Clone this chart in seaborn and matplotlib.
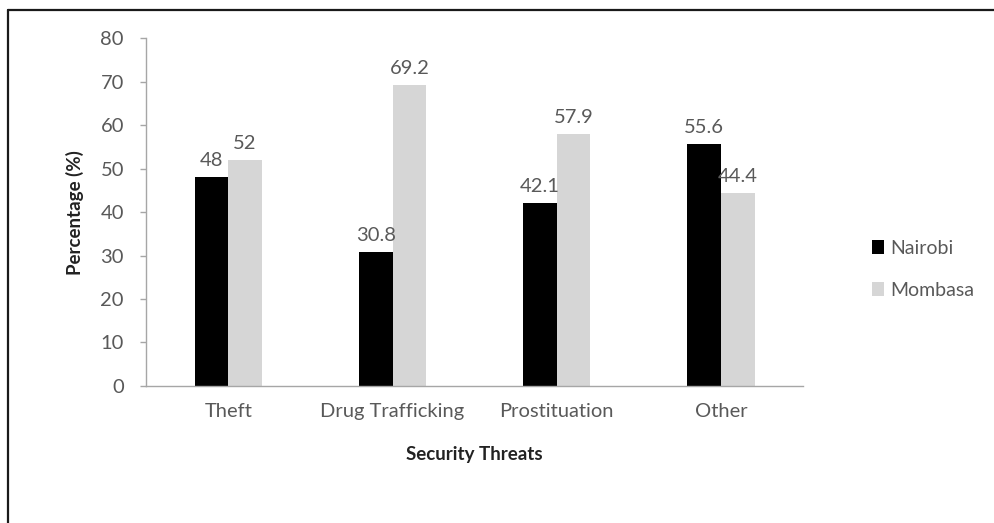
import matplotlib
matplotlib.use("Agg")
import matplotlib.pyplot as plt
from matplotlib.lines import Line2D
import seaborn as sns
import pandas as pd

threats = ["Theft", "Drug Trafficking", "Prostituation", "Other"]
nairobi = [48, 30.8, 42.1, 55.6]
mombasa = [52, 69.2, 57.9, 44.4]
cities = ["Nairobi", "Mombasa"]
y_ticks = [0, 10, 20, 30, 40, 50, 60, 70, 80]

df = pd.DataFrame({
    "Security Threats": threats * 2,
    "Percentage (%)": nairobi + mombasa,
    "City": [cities[0]] * len(threats) + [cities[1]] * len(threats),
})

sns.set_style("white")
plt.rcParams["font.family"] = ["Lato", "DejaVu Sans"]
text_color = "#595959"
axis_color = "#a6a6a6"

fig = plt.figure(figsize=(9.94, 5.23), dpi=100)
ax = fig.add_axes([0.147, 0.262, 0.661, 0.665])

sns.barplot(
    data=df, x="Security Threats", y="Percentage (%)", hue="City",
    palette=["#000000", "#d6d6d6"], width=0.41, saturation=1,
    linewidth=0, ax=ax, legend=True,
)

for container in ax.containers:
    ax.bar_label(container, labels=[f"{v:g}" for v in container.datavalues],
                 padding=6, fontsize=14.5, color=text_color)

ax.set_ylim(0, 80)
ax.set_yticks(y_ticks)
ax.set_xlim(-0.5, len(threats) - 0.5)
ax.tick_params(axis="y", length=4, width=1, color=axis_color, labelsize=14.5,
               labelcolor=text_color, direction="out", pad=12, left=True)
ax.tick_params(axis="x", length=0, labelsize=14.5, labelcolor=text_color, pad=12)

ax.set_xlabel("Security Threats", fontsize=13.5, fontweight="bold",
              color="#222222", labelpad=19)
ax.set_ylabel("Percentage (%)", fontsize=13.5, fontweight="bold",
              color="#222222", labelpad=12)

sns.despine(ax=ax)
for side in ("left", "bottom"):
    ax.spines[side].set_color(axis_color)
    ax.spines[side].set_linewidth(1)

handles, labels = ax.get_legend_handles_labels()
ax.get_legend().remove()
fig.legend(handles, labels, loc="center left",
           bbox_to_anchor=(0.86, 0.485), frameon=False, fontsize=14,
           handlelength=0.6, handleheight=0.7, handletextpad=0.3,
           labelspacing=1.3, labelcolor=text_color)

# outer frame (top and left edges)
top = 1 - 10 / 523
left = 8 / 994
fig.add_artist(Line2D([left, 1], [top, top], transform=fig.transFigure,
                      color="#1a1a1a", linewidth=1.6))
fig.add_artist(Line2D([left, left], [0, top], transform=fig.transFigure,
                      color="#1a1a1a", linewidth=1.6))

fig.savefig("out.png", dpi=100)
